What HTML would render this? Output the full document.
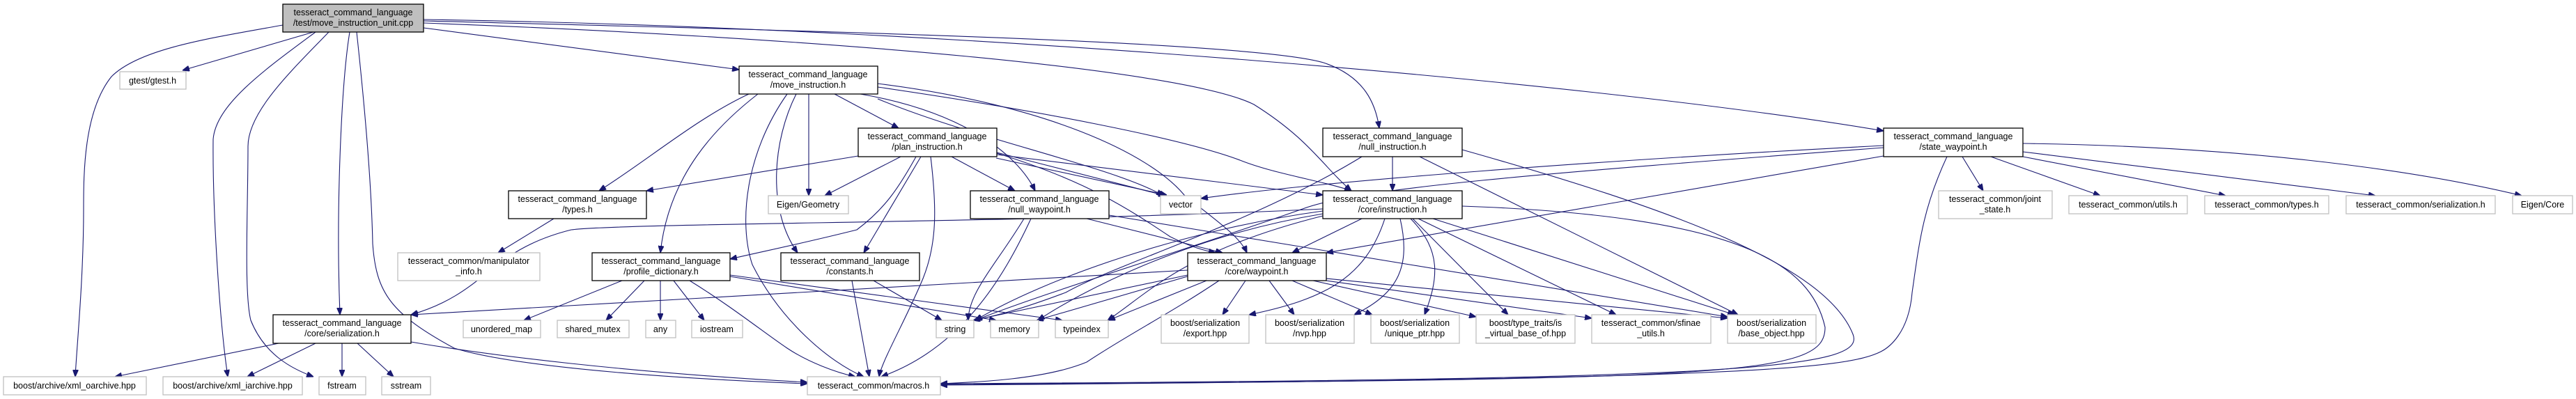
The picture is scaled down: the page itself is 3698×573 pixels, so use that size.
<!DOCTYPE html>
<html><head><meta charset="utf-8"><style>
html,body{margin:0;padding:0;background:#fff;}
svg{display:block;}
text{font-family:"Liberation Sans",Arial,sans-serif;font-size:12.5px;fill:#000;text-anchor:middle;}
.i{fill:#fff;stroke:#000;stroke-width:1.3;}
.e{fill:#fff;stroke:#bfbfbf;stroke-width:1.3;}
.r{fill:#bfbfbf;stroke:#000;stroke-width:1.3;}
path{fill:none;stroke:#191970;stroke-width:1.1;}
</style></head><body>
<svg width="3698" height="573" viewBox="0 0 3698 573" xmlns="http://www.w3.org/2000/svg">
<defs><marker id="a" viewBox="0 0 10 8" refX="10" refY="4" markerWidth="10" markerHeight="8" markerUnits="userSpaceOnUse" orient="auto"><path d="M0,0 L10,4 L0,8 Z" style="fill:#191970;stroke:#191970"/></marker></defs>
<g marker-end="url(#a)">
<!-- root edges -->
<path d="M450,46 L262,101"/>
<path d="M406,36 C300,55 200,70 160,110 C120,160 120,250 120,300 C120,400 110,500 108,541"/>
<path d="M453,46 C380,100 310,150 306,200 C305,300 315,460 327,541"/>
<path d="M472,46 C420,100 356,160 356,210 C356,300 350,420 360,460 C380,510 420,530 450,541"/>
<path d="M502,46 C490,120 482,300 488,452"/>
<path d="M512,46 C520,120 533,250 535,350 C540,420 560,450 652,500 C750,530 1000,545 1159,551"/>
<path d="M608,40 L1061,100"/>
<path d="M608,30 C1200,45 1800,60 1900,90 C1960,110 1975,150 1980,184"/>
<path d="M608,28 C1400,40 2300,120 2704,188"/>
<path d="M608,33 C1200,55 1700,100 1800,150 C1880,200 1900,240 1940,274"/>
<!-- move_instruction -->
<path d="M1075,135 C1000,170 930,230 860,274"/>
<path d="M1088,135 C1030,180 960,250 948,363"/>
<path d="M1161,135 L1161,281"/>
<path d="M1198,135 L1290,184"/>
<path d="M1143,135 C1110,200 1100,300 1145,363"/>
<path d="M1130,135 C1070,220 1060,320 1080,380 C1120,460 1190,520 1240,541"/>
<path d="M1235,135 C1380,160 1460,220 1486,274"/>
<path d="M1260,142 C1400,200 1600,240 1670,281"/>
<path d="M1260,125 C1500,160 1700,200 1780,230 C1830,250 1900,260 1940,274"/>
<path d="M1260,120 C1500,150 1650,220 1700,280 C1750,320 1780,340 1790,363"/>
<!-- plan_instruction -->
<path d="M1232,224 L928,274"/>
<path d="M1293,225 L1184,281"/>
<path d="M1315,225 C1290,270 1270,300 1230,330 C1150,350 1100,360 1048,372"/>
<path d="M1322,225 L1240,363"/>
<path d="M1336,225 C1345,300 1345,350 1325,400 C1300,460 1265,520 1262,541"/>
<path d="M1366,225 L1457,274"/>
<path d="M1431,219 L1673,281"/>
<path d="M1431,222 L1899,280"/>
<path d="M1431,220 C1560,260 1620,300 1680,340 C1710,355 1730,360 1745,363"/>
<path d="M1430,227 L1675,280"/>
<!-- types -->
<path d="M795,314 L715,363"/>
<!-- profile_dictionary -->
<path d="M893,403 L752,460"/>
<path d="M925,403 L870,460"/>
<path d="M948,403 L948,460"/>
<path d="M967,403 L1011,460"/>
<path d="M990,403 C1050,440 1100,480 1130,500 C1160,520 1200,535 1228,541"/>
<path d="M1048,397 L1430,460"/>
<path d="M1048,395 L1525,460"/>
<!-- constants -->
<path d="M1254,403 L1352,460"/>
<path d="M1223,403 L1248,541"/>
<!-- null_waypoint -->
<path d="M1470,314 C1430,380 1390,420 1390,460"/>
<path d="M1480,314 C1440,400 1380,500 1265,541"/>
<path d="M1560,314 L1755,363"/>
<path d="M1592,309 L2480,455"/>
<!-- core/waypoint -->
<path d="M1705,388 L590,452"/>
<path d="M1705,395 L1397,460"/>
<path d="M1708,396 L1488,460"/>
<path d="M1732,403 L1591,460"/>
<path d="M1788,403 L1755,452"/>
<path d="M1822,403 L1858,452"/>
<path d="M1855,403 L1970,452"/>
<path d="M1885,403 L2119,455"/>
<path d="M1904,403 L2285,457"/>
<path d="M1904,400 L2480,457"/>
<path d="M1750,403 C1680,450 1620,480 1560,520 C1500,545 1400,549 1350,551"/>
<!-- null_instruction -->
<path d="M1999,225 L1999,274"/>
<path d="M1955,225 C1800,320 1600,380 1530,420 C1450,450 1420,455 1397,460"/>
<path d="M2038,225 L2495,452"/>
<path d="M2099,215 C2400,300 2620,380 2660,480 C2680,530 2500,545 1350,551"/>
<!-- core/instruction -->
<path d="M1955,314 L1855,363"/>
<path d="M1899,300 C1500,320 900,320 820,330 C700,360 700,420 590,452"/>
<path d="M1899,303 C1700,330 1500,400 1400,460"/>
<path d="M1899,307 C1700,340 1550,420 1490,460"/>
<path d="M1899,310 C1700,360 1650,420 1590,460"/>
<path d="M1988,314 C1960,400 1900,430 1793,452"/>
<path d="M2010,314 C2025,380 2010,420 1944,452"/>
<path d="M2025,314 C2070,360 2065,400 2045,452"/>
<path d="M2028,314 L2165,452"/>
<path d="M2036,314 L2320,452"/>
<path d="M2057,314 L2490,452"/>
<path d="M2099,296 C2500,310 2600,380 2620,470 C2620,540 2500,545 1350,552"/>
<!-- state_waypoint -->
<path d="M2704,209 C2300,230 1900,260 1724,285"/>
<path d="M2704,212 C2200,250 1950,270 1870,300 C1700,360 1500,420 1400,460"/>
<path d="M2704,224 L1904,363"/>
<path d="M2817,225 L2847,274"/>
<path d="M2858,225 L3015,281"/>
<path d="M2904,225 L3195,281"/>
<path d="M2904,218 L3410,281"/>
<path d="M2904,206 C3200,210 3450,240 3620,281"/>
<path d="M2795,225 C2760,300 2755,350 2745,420 C2740,480 2710,500 2700,505 C2650,530 2500,545 1350,553"/>
<!-- serialization -->
<path d="M400,493 L165,541"/>
<path d="M453,493 L355,541"/>
<path d="M491,493 L491,541"/>
<path d="M513,493 L565,541"/>
<path d="M590,491 C700,510 900,535 1159,549"/>
</g>
<!-- nodes -->
<rect class="r" x="406" y="6" width="202" height="40"/><text x="507" y="22">tesseract_command_language</text><text x="507" y="37">/test/move_instruction_unit.cpp</text>
<rect class="e" x="172" y="103" width="95" height="25"/><text x="219" y="120">gtest/gtest.h</text>
<rect class="i" x="1061" y="95" width="199" height="40"/><text x="1160" y="111">tesseract_command_language</text><text x="1160" y="126">/move_instruction.h</text>
<rect class="i" x="1232" y="184" width="199" height="41"/><text x="1331" y="200">tesseract_command_language</text><text x="1331" y="215">/plan_instruction.h</text>
<rect class="i" x="1899" y="184" width="200" height="41"/><text x="1999" y="200">tesseract_command_language</text><text x="1999" y="215">/null_instruction.h</text>
<rect class="i" x="2704" y="184" width="200" height="41"/><text x="2804" y="200">tesseract_command_language</text><text x="2804" y="215">/state_waypoint.h</text>
<rect class="i" x="730" y="274" width="198" height="40"/><text x="829" y="290">tesseract_command_language</text><text x="829" y="305">/types.h</text>
<rect class="e" x="1103" y="281" width="115" height="26"/><text x="1160" y="298">Eigen/Geometry</text>
<rect class="i" x="1393" y="274" width="199" height="40"/><text x="1492" y="290">tesseract_command_language</text><text x="1492" y="305">/null_waypoint.h</text>
<rect class="e" x="1666" y="281" width="58" height="26"/><text x="1695" y="298">vector</text>
<rect class="i" x="1899" y="274" width="200" height="40"/><text x="1999" y="290">tesseract_command_language</text><text x="1999" y="305">/core/instruction.h</text>
<rect class="e" x="2783" y="274" width="163" height="40"/><text x="2864" y="290">tesseract_common/joint</text><text x="2864" y="305">_state.h</text>
<rect class="e" x="2970" y="281" width="170" height="26"/><text x="3055" y="298">tesseract_common/utils.h</text>
<rect class="e" x="3165" y="281" width="178" height="26"/><text x="3254" y="298">tesseract_common/types.h</text>
<rect class="e" x="3368" y="281" width="214" height="26"/><text x="3475" y="298">tesseract_common/serialization.h</text>
<rect class="e" x="3607" y="281" width="86" height="26"/><text x="3650" y="298">Eigen/Core</text>
<rect class="e" x="571" y="363" width="204" height="40"/><text x="673" y="379">tesseract_common/manipulator</text><text x="673" y="394">_info.h</text>
<rect class="i" x="850" y="363" width="198" height="40"/><text x="949" y="379">tesseract_command_language</text><text x="949" y="394">/profile_dictionary.h</text>
<rect class="i" x="1121" y="363" width="199" height="40"/><text x="1220" y="379">tesseract_command_language</text><text x="1220" y="394">/constants.h</text>
<rect class="i" x="1705" y="363" width="199" height="40"/><text x="1804" y="379">tesseract_command_language</text><text x="1804" y="394">/core/waypoint.h</text>
<rect class="i" x="392" y="452" width="198" height="41"/><text x="491" y="468">tesseract_command_language</text><text x="491" y="483">/core/serialization.h</text>
<rect class="e" x="665" y="460" width="111" height="25"/><text x="720" y="477">unordered_map</text>
<rect class="e" x="800" y="460" width="103" height="25"/><text x="851" y="477">shared_mutex</text>
<rect class="e" x="927" y="460" width="43" height="25"/><text x="948" y="477">any</text>
<rect class="e" x="993" y="460" width="73" height="25"/><text x="1029" y="477">iostream</text>
<rect class="e" x="1344" y="460" width="54" height="25"/><text x="1371" y="477">string</text>
<rect class="e" x="1422" y="460" width="69" height="25"/><text x="1456" y="477">memory</text>
<rect class="e" x="1515" y="460" width="76" height="25"/><text x="1553" y="477">typeindex</text>
<rect class="e" x="1667" y="452" width="126" height="41"/><text x="1730" y="468">boost/serialization</text><text x="1730" y="483">/export.hpp</text>
<rect class="e" x="1817" y="452" width="127" height="41"/><text x="1880" y="468">boost/serialization</text><text x="1880" y="483">/nvp.hpp</text>
<rect class="e" x="1968" y="452" width="127" height="41"/><text x="2031" y="468">boost/serialization</text><text x="2031" y="483">/unique_ptr.hpp</text>
<rect class="e" x="2119" y="452" width="142" height="41"/><text x="2190" y="468">boost/type_traits/is</text><text x="2190" y="483">_virtual_base_of.hpp</text>
<rect class="e" x="2285" y="452" width="171" height="41"/><text x="2370" y="468">tesseract_common/sfinae</text><text x="2370" y="483">_utils.h</text>
<rect class="e" x="2480" y="452" width="127" height="41"/><text x="2543" y="468">boost/serialization</text><text x="2543" y="483">/base_object.hpp</text>
<rect class="e" x="5" y="541" width="205" height="26"/><text x="107" y="558">boost/archive/xml_oarchive.hpp</text>
<rect class="e" x="234" y="541" width="200" height="26"/><text x="334" y="558">boost/archive/xml_iarchive.hpp</text>
<rect class="e" x="458" y="541" width="67" height="26"/><text x="491" y="558">fstream</text>
<rect class="e" x="548" y="541" width="70" height="26"/><text x="583" y="558">sstream</text>
<rect class="e" x="1159" y="541" width="191" height="26"/><text x="1254" y="558">tesseract_common/macros.h</text>
</svg>
</body></html>
